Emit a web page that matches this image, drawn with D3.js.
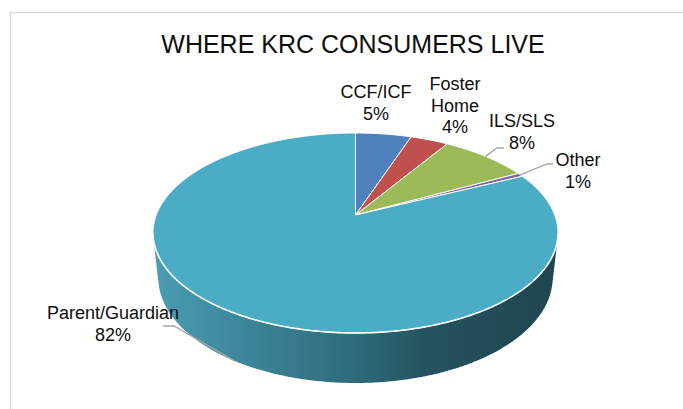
<!DOCTYPE html>
<html>
<head>
<meta charset="utf-8">
<script src="https://cdn.jsdelivr.net/npm/d3@7"></script>
<style>
  html, body { margin: 0; padding: 0; background: #fff; }
  svg { display: block; }
  text { font-family: "Liberation Sans", Arial, sans-serif; }
</style>
</head>
<body>
<svg id="chart" width="683" height="409"></svg>
<script>
// ---- data ----
const title = "WHERE KRC CONSUMERS LIVE";
const categories = ["CCF/ICF", "Foster Home", "ILS/SLS", "Other", "Parent/Guardian"];
const labelLines = [["CCF/ICF"], ["Foster", "Home"], ["ILS/SLS"], ["Other"], ["Parent/Guardian"]];
const values = [5.3, 3.6, 8.4, 0.6, 82.1];

// ---- styling / layout ----
const colors = ["#4F81BD", "#C0504D", "#9BBB59", "#8064A2", "#4BACC6"];
const labelPos = [[376, 98], [455, 90], [522, 127], [578, 166], [113, 319]];
const leaderElbows = [null, null, [[497, 148], [504, 148]], [[547, 164], [553, 164]], [[174, 326], [163, 326]]];
const leaderOnBottom = [false, false, false, false, true];

const svg = d3.select("#chart");
const W = 683, H = 409;

// chart frame
svg.append("path")
  .attr("d", `M10.5,${H + 2} L10.5,12.5 L${W + 2},12.5`)
  .attr("fill", "none").attr("stroke", "#d9d9d9").attr("stroke-width", 1.5);

svg.append("text")
  .attr("x", 353).attr("y", 52.5)
  .attr("text-anchor", "middle")
  .attr("font-size", 25).attr("fill", "#0d0d0d")
  .text(title);

// ---- perspective projection of a 3D pie ----
const cx = 355.5, cy = 215;
const theta = Math.asin(0.4857);
const sT = Math.sin(theta), cT = Math.cos(theta);
const L = 4.857, F = 967.4, depth = 0.2608;
function proj(a, h) {
  const u = Math.sin(a), w = -Math.cos(a);
  const zc = L - (h * sT + w * cT);
  const yc = h * cT - w * sT;
  return [cx + F * u / zc, cy - F * yc / zc];
}
const line = d3.line();
function arcPts(a0, a1, h) {
  const n = Math.max(2, Math.ceil(Math.abs(a1 - a0) / (Math.PI / 360)));
  return d3.range(n + 1).map(i => proj(a0 + (a1 - a0) * i / n, h));
}

const pie = d3.pie().sort(null).value(d => d)(values);

// silhouette angles of the visible side
const wSil = 1 / (L * cT);
const silA = Math.acos(-wSil), silB = 2 * Math.PI - silA;

const defs = svg.append("defs");
const grad = defs.append("linearGradient").attr("id", "sideGrad")
  .attr("gradientUnits", "userSpaceOnUse")
  .attr("x1", 153).attr("x2", 558).attr("y1", 0).attr("y2", 0);
[[0, "#4a9db3"], [0.25, "#3b8397"], [0.5, "#2e6b7b"], [0.68, "#24525e"], [1, "#1f4550"]]
  .forEach(([o, c]) => grad.append("stop").attr("offset", o).attr("stop-color", c));

// visible side (front)
pie.forEach((p, i) => {
  const a0 = Math.max(p.startAngle, silA), a1 = Math.min(p.endAngle, silB);
  if (a1 <= a0) return;
  const pts = arcPts(a0, a1, 0).concat(arcPts(a1, a0, -depth));
  svg.append("path").attr("d", line(pts) + "Z")
    .attr("fill", i === 4 ? "url(#sideGrad)" : d3.color(colors[i]).darker(1));
});

// top faces
const topG = svg.append("g");
pie.forEach((p, i) => {
  const pts = [proj(0, 0).map((v, k) => k === 0 ? cx : cy)].concat(arcPts(p.startAngle, p.endAngle, 0));
  topG.append("path").attr("d", line(pts) + "Z")
    .attr("fill", colors[i])
    .attr("stroke", "#ffffff").attr("stroke-width", 1).attr("stroke-linejoin", "round");
});
// front rim highlight
svg.append("path").attr("d", line(arcPts(silA - 0.05, silB + 0.05, 0)))
  .attr("fill", "none").attr("stroke", "#ffffff").attr("stroke-width", 1.6).attr("opacity", 0.95);

// leader lines
pie.forEach((p, i) => {
  if (!leaderElbows[i]) return;
  const mid = (p.startAngle + p.endAngle) / 2;
  const start = proj(mid, leaderOnBottom[i] ? -depth : 0);
  svg.append("path").attr("d", line([start].concat(leaderElbows[i])))
    .attr("fill", "none").attr("stroke", "#a6a6a6").attr("stroke-width", 1.3);
});

// labels
pie.forEach((p, i) => {
  const lines = labelLines[i].concat([Math.round(values[i]) + "%"]);
  const t = svg.append("text")
    .attr("text-anchor", "middle").attr("font-size", 18).attr("fill", "#0d0d0d");
  lines.forEach((s, k) => {
    t.append("tspan").attr("x", labelPos[i][0]).attr("y", labelPos[i][1] + k * 21.7).text(s);
  });
});
</script>
</body>
</html>
